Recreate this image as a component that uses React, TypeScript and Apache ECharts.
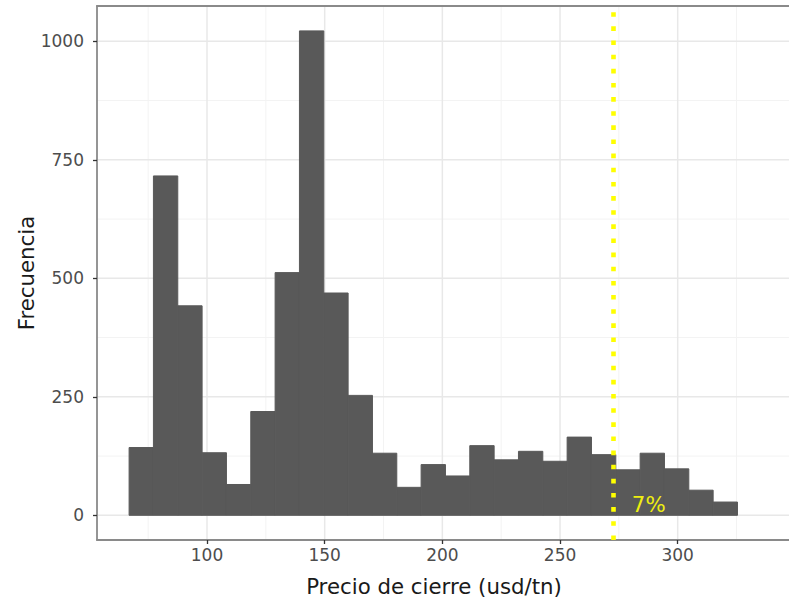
import React, { useEffect, useRef } from "react";
import * as echarts from "echarts";

// Histogram bins (Precio de cierre, usd/tn)
const binStart = 66.9;
const binWidth = 10.34;
const counts = [143, 716, 442, 132, 65, 219, 512, 1022, 469, 253, 131, 59, 107, 83, 147, 117, 135, 114, 165, 128, 96, 131, 98, 53, 28];

// Axis ticks
const xMajor = [100, 150, 200, 250, 300];
const xMinor = [75, 125, 175, 225, 275, 325];
const yMajor = [0, 250, 500, 750, 1000];
const yMinor = [125, 375, 625, 875];

// Reference line and annotation
const vlineX = 272.8;
const annotation = { x: 287.7, y: 23.8, text: "7%" };

const X_MIN = 53.26;
const X_MAX = 347.29;
const Y_MIN = -52.1;
const Y_MAX = 1074.5;

const FONT = "DejaVu Sans";

export default function App() {
  const ref = useRef<HTMLDivElement>(null);
  useEffect(() => {
    if (!ref.current) return;
    const chart = echarts.init(ref.current, undefined, { renderer: "svg" });
    const histData = counts.map((c, i) => [binStart + i * binWidth, binStart + (i + 1) * binWidth, c]);
    // [axis (0 = vertical line at x, 1 = horizontal line at y), value, major flag]
    const gridData = [
      ...xMinor.map((v) => [0, v, 0]),
      ...yMinor.map((v) => [1, v, 0]),
      ...xMajor.map((v) => [0, v, 1]),
      ...yMajor.map((v) => [1, v, 1]),
    ];
    const borderStyle = { color: "#8a8a8a", width: 1.8 };
    const fmt = (v: number) => String(v);
    chart.setOption({
      animation: false,
      backgroundColor: "#ffffff",
      grid: { left: 97, top: 6, right: 0, bottom: 60, containLabel: false, outerBoundsMode: "none" },
      xAxis: [
        {
          type: "value",
          min: X_MIN,
          max: X_MAX,
          position: "bottom",
          axisLine: { show: true, onZero: false, lineStyle: borderStyle },
          axisTick: { show: true, customValues: xMajor, length: 4, lineStyle: { color: "#333333", width: 1.3 } },
          axisLabel: { customValues: xMajor, formatter: fmt, color: "#4d4d4d", fontSize: 17, margin: 6, fontFamily: FONT },
          splitLine: { show: false },
          name: "Precio de cierre (usd/tn)",
          nameLocation: "middle",
          nameGap: 36,
          nameTextStyle: { fontSize: 21.3, color: "#1a1a1a", fontFamily: FONT, padding: [0, 18, 0, 0] },
        },
        {
          type: "value",
          min: X_MIN,
          max: X_MAX,
          position: "top",
          axisLine: { show: true, onZero: false, lineStyle: borderStyle },
          axisTick: { show: false },
          axisLabel: { show: false },
          splitLine: { show: false },
        },
      ],
      yAxis: {
        type: "value",
        min: Y_MIN,
        max: Y_MAX,
        axisLine: { show: true, onZero: false, lineStyle: borderStyle },
        axisTick: { show: true, customValues: yMajor, length: 4, lineStyle: { color: "#333333", width: 1.3 } },
        axisLabel: { customValues: yMajor, formatter: fmt, color: "#4d4d4d", fontSize: 17, margin: 13, fontFamily: FONT },
        splitLine: { show: false },
        name: "Frecuencia",
        nameLocation: "middle",
        nameGap: 60,
        nameMoveOverlap: false,
        nameTextStyle: { fontSize: 21.3, color: "#1a1a1a", fontFamily: FONT },
      },
      series: [
        {
          type: "custom",
          z: 0,
          silent: true,
          data: gridData,
          renderItem: (params: any, api: any) => {
            const cs = params.coordSys;
            const isX = api.value(0) === 0;
            const v = api.value(1);
            const major = api.value(2) === 1;
            const style = major
              ? { stroke: "#e8e8e8", lineWidth: 1.5 }
              : { stroke: "#f3f3f3", lineWidth: 1 };
            if (isX) {
              const px = api.coord([v, 0])[0];
              return { type: "line", shape: { x1: px, y1: cs.y, x2: px, y2: cs.y + cs.height }, style };
            }
            const py = api.coord([X_MIN, v])[1];
            return { type: "line", shape: { x1: cs.x, y1: py, x2: cs.x + cs.width, y2: py }, style };
          },
        },
        {
          type: "custom",
          z: 2,
          silent: true,
          encode: { x: [0, 1], y: 2 },
          data: histData,
          renderItem: (params: any, api: any) => {
            const p0 = api.coord([api.value(0), api.value(2)]);
            const p1 = api.coord([api.value(1), 0]);
            return {
              type: "rect",
              shape: { x: p0[0], y: p0[1], width: p1[0] - p0[0], height: p1[1] - p0[1] },
              style: { fill: "#595959", stroke: "#595959", lineWidth: 1 },
            };
          },
        },
        {
          type: "line",
          data: [],
          z: 3,
          silent: true,
          markLine: {
            silent: true,
            symbol: ["none", "none"],
            label: { show: false },
            animation: false,
            data: [
              [
                { coord: [vlineX, Y_MIN] },
                { coord: [vlineX, Y_MAX] },
              ],
            ],
            lineStyle: { color: "#ffff00", width: 4.6, type: [4.6, 9.54], cap: "butt" },
          },
        },
        {
          type: "custom",
          z: 4,
          silent: true,
          data: [[annotation.x, annotation.y]],
          renderItem: (params: any, api: any) => {
            const p = api.coord([api.value(0), api.value(1)]);
            return {
              type: "text",
              x: p[0],
              y: p[1],
              style: {
                text: annotation.text,
                fill: "#eeee10",
                fontSize: 21.3,
                fontFamily: FONT,
                align: "center",
                verticalAlign: "middle",
              },
            };
          },
        },
      ],
    });
    return () => chart.dispose();
  }, []);
  return (
    <div
      ref={ref}
      style={{ position: "fixed", left: 0, top: 0, width: 789, height: 600 }}
    />
  );
}
